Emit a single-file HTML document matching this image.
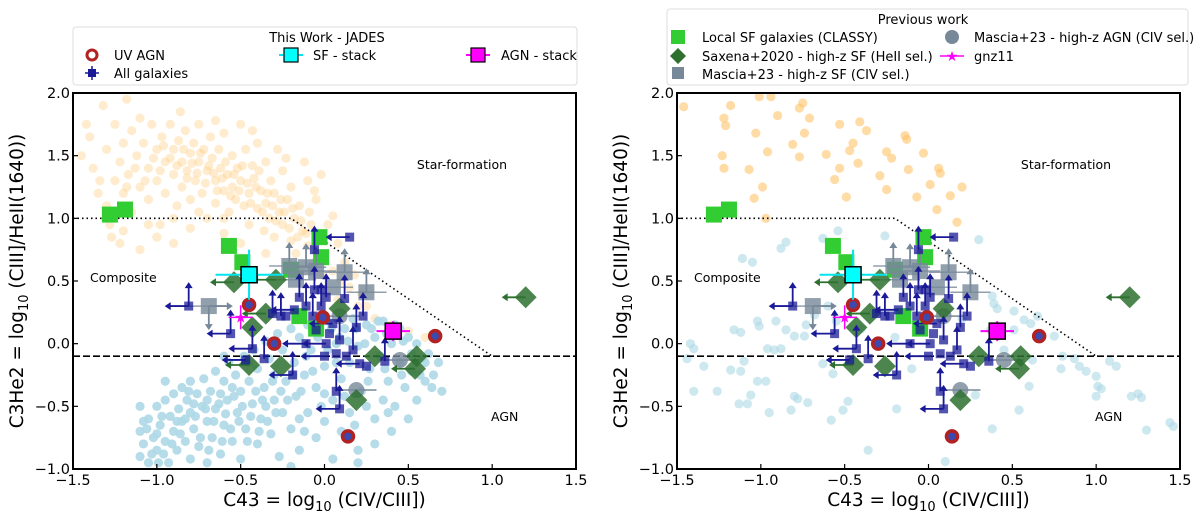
<!DOCTYPE html>
<html><head><meta charset="utf-8"><style>
html,body{margin:0;padding:0;background:#fff;}
svg{display:block;font-family:"DejaVu Sans","Liberation Sans",sans-serif;}
</style></head><body>
<svg id="chart" width="1200" height="523" viewBox="0 0 1200 523" xmlns="http://www.w3.org/2000/svg"></svg>
<script>
// ---- data ----
const leftOrange=[[-1.45,1.5],[-1.4,1.65],[-1.38,1.4],[-1.35,1.2],[-1.32,1.9],[-1.3,1.55],[-1.3,1.1],[-1.28,0.95],[-1.27,0.85],[-1.25,1.3],[-1.25,1.75],[-1.22,1.45],[-1.22,0.8],[-1.2,1.6],[-1.2,1.2],[-1.18,1.95],[-1.17,1.35],[-1.15,1.7],[-1.15,1.05],[-1.12,1.5],[-1.1,1.25],[-1.1,1.8],[-1.08,1.6],[-1.05,1.4],[-1.05,1.15],[-1.03,1.75],[-1.0,1.55],[-1.0,1.3],[-0.98,0.95],[-0.97,1.65],[-0.95,1.45],[-0.95,1.2],[-0.92,1.75],[-0.9,1.35],[-0.9,1.55],[-0.88,1.1],[-0.87,1.62],[-0.85,1.45],[-0.85,1.25],[-0.83,1.7],[-0.82,1.38],[-0.8,1.52],[-0.8,1.15],[-0.78,1.6],[-0.77,1.3],[-0.75,1.45],[-0.75,1.75],[-0.73,1.2],[-0.72,1.55],[-0.7,1.38],[-0.7,1.0],[-0.68,1.65],[-0.67,1.48],[-0.65,1.3],[-0.65,1.12],[-0.63,1.55],[-0.62,1.4],[-0.6,1.22],[-0.6,1.68],[-0.58,1.35],[-0.57,1.05],[-0.55,1.5],[-0.55,1.25],[-0.53,1.15],[-0.52,1.4],[-0.5,1.3],[-0.5,1.75],[-0.48,1.1],[-0.47,1.55],[-0.45,1.2],[-0.45,0.95],[-0.43,1.42],[-0.42,1.32],[-0.4,1.08],[-0.4,1.6],[-0.38,1.22],[-0.36,0.9],[-0.35,1.45],[-0.35,1.12],[-0.33,1.0],[-0.32,1.3],[-0.3,1.2],[-0.3,0.85],[-0.28,1.55],[-0.27,1.05],[-0.25,0.95],[-0.25,1.38],[-0.22,1.15],[-0.2,0.82],[-0.2,1.25],[-0.18,1.0],[-0.17,0.72],[-0.15,1.1],[-0.13,0.9],[-0.12,1.45],[-0.1,0.78],[-0.1,1.3],[-0.08,0.95],[-0.06,0.65],[-0.05,1.15],[-0.03,0.85],[-0.02,1.35],[0.0,0.7],[0.02,0.95],[0.05,0.58],[0.08,0.8],[0.1,0.5],[0.12,0.65],[0.15,0.45],[0.18,0.55],[0.22,0.4],[0.25,0.3],[-1.2,0.9],[-1.1,0.75],[-1.0,0.85],[-0.9,0.8],[-0.8,0.92],[-0.6,0.88],[-0.5,0.8],[-0.35,0.72],[-0.15,0.6],[0.3,0.2],[0.4,0.15],[0.5,0.1],[0.6,0.05],
[-0.92,1.48],[-0.88,1.42],[-0.84,1.55],[-0.82,1.32],[-0.79,1.44],[-0.76,1.36],[-0.74,1.52],[-0.71,1.28],[-0.69,1.42],[-0.66,1.36],[-0.64,1.22],[-0.61,1.32],[-0.59,1.45],[-0.56,1.18],[-0.54,1.35],[-0.51,1.22],[-0.49,1.42],[-0.46,1.28],[-0.44,1.12],[-0.41,1.25],[-0.39,1.38],[-0.37,1.05],[-0.34,1.2],[-0.31,1.1],[-0.29,0.98],[-0.26,1.15],[-0.24,1.05],[-0.21,0.92],[-0.19,1.08],[-0.16,0.85],[-0.14,0.98],[-0.11,0.88],[-0.09,1.05],[-1.02,1.48],[-0.98,1.38],[-0.96,1.58],[-1.07,1.3],[-1.13,1.4],[-1.18,1.25],[-1.26,1.05],[-1.34,1.3],[-1.42,1.75],[-0.86,1.85],[-0.65,1.78],[-0.43,1.7],[-0.23,1.48],[-0.06,1.22],[0.05,1.02],[-0.02,0.55],[0.08,0.35],[0.2,0.3],[-0.6,1.0],[-0.75,1.05],[-0.9,1.0],[-1.05,0.95]];
const leftBlue=[[-1.1,-0.9],[-1.1,-0.7],[-1.08,-0.8],[-1.05,-0.6],[-1.05,-0.95],[-1.02,-0.75],[-1.0,-0.5],[-1.0,-0.85],[-0.98,-0.65],[-0.95,-0.45],[-0.95,-0.78],[-0.93,-0.95],[-0.92,-0.58],[-0.9,-0.4],[-0.9,-0.7],[-0.88,-0.85],[-0.87,-0.52],[-0.85,-0.35],[-0.85,-0.62],[-0.83,-0.78],[-0.82,-0.45],[-0.8,-0.3],[-0.8,-0.55],[-0.8,-0.92],[-0.78,-0.68],[-0.76,-0.4],[-0.75,-0.82],[-0.73,-0.5],[-0.72,-0.28],[-0.7,-0.62],[-0.7,-0.95],[-0.68,-0.38],[-0.67,-0.75],[-0.65,-0.22],[-0.65,-0.52],[-0.62,-0.88],[-0.6,-0.3],[-0.6,-0.65],[-0.58,-0.45],[-0.57,-0.15],[-0.55,-0.78],[-0.53,-0.25],[-0.52,-0.55],[-0.5,-0.38],[-0.5,-0.92],[-0.48,-0.1],[-0.47,-0.68],[-0.45,-0.3],[-0.43,-0.48],[-0.42,-0.05],[-0.4,-0.8],[-0.4,-0.2],[-0.38,-0.6],[-0.36,-0.35],[-0.35,0.02],[-0.33,-0.12],[-0.32,-0.72],[-0.3,-0.45],[-0.3,-0.25],[-0.28,0.08],[-0.27,-0.9],[-0.25,-0.55],[-0.25,-0.05],[-0.23,-0.3],[-0.2,0.12],[-0.2,-0.68],[-0.18,-0.15],[-0.17,-0.42],[-0.15,0.05],[-0.15,-0.85],[-0.12,-0.25],[-0.1,0.15],[-0.1,-0.55],[-0.08,-0.05],[-0.05,-0.35],[-0.05,-0.75],[-0.03,0.1],[0.0,-0.18],[0.0,-0.62],[0.02,0.18],[0.05,-0.45],[0.05,-0.92],[0.07,0.0],[0.1,-0.28],[0.1,-0.7],[0.12,0.12],[0.15,-0.15],[0.15,-0.55],[0.17,0.2],[0.2,-0.02],[0.2,-0.85],[0.22,-0.38],[0.25,0.15],[0.27,-0.2],[0.3,-0.6],[0.3,0.05],[0.33,-0.1],[0.35,0.18],[0.38,-0.3],[0.4,0.0],[0.42,-0.5],[0.45,0.12],[0.45,-0.15],[0.48,-0.35],[0.5,0.05],[0.52,-0.22],[0.55,-0.45],[0.55,0.0],[0.58,-0.12],[0.6,-0.3],[0.62,-0.08],[0.65,-0.25],[0.7,-0.38],[0.68,-0.15],[0.4,-0.7],[0.2,-0.95],[-0.2,-0.98],[-0.95,-0.3],[-1.1,-0.5],[-0.45,-0.15],[0.3,-0.8],[0.5,-0.6],[-0.6,-0.1],[-1.06,-0.68],[-0.97,-0.58],[-0.88,-0.62],[-0.78,-0.48],[-0.7,-0.45],[-0.62,-0.4],[-0.55,-0.35],[-0.35,-0.5],[-0.15,-0.6],[0.0,-0.4],[0.25,-0.5],[0.35,-0.45],
[-1.0,-0.72],[-0.96,-0.88],[-0.91,-0.8],[-0.86,-0.72],[-0.83,-0.6],[-0.81,-0.38],[-0.77,-0.58],[-0.74,-0.75],[-0.71,-0.52],[-0.69,-0.85],[-0.66,-0.62],[-0.63,-0.48],[-0.61,-0.78],[-0.59,-0.56],[-0.56,-0.68],[-0.54,-0.42],[-0.51,-0.62],[-0.49,-0.5],[-0.46,-0.78],[-0.44,-0.58],[-0.41,-0.38],[-0.39,-0.7],[-0.37,-0.45],[-0.34,-0.62],[-0.31,-0.3],[-0.29,-0.55],[-0.26,-0.38],[-0.22,-0.45],[-0.19,-0.25],[-0.14,-0.38],[-0.11,-0.1],[-0.07,-0.22],[-0.04,0.05],[0.02,-0.05],[0.04,0.12],[0.09,0.05],[0.14,0.02],[0.19,0.12],[0.24,0.0],[0.28,0.12],[0.32,0.18],[0.37,0.08],[0.42,0.15],[0.47,0.02],[0.52,-0.08],[0.57,-0.25],[0.6,-0.15],[0.64,-0.35],[0.46,-0.25],[0.36,-0.2],[0.26,-0.3],[0.12,-0.42],[0.07,-0.15],[-0.02,-0.5],[-0.12,-0.7],[0.18,-0.65],[0.38,-0.55],[-1.08,-0.62],[-1.03,-0.88],[-0.99,-0.95]];
const rightOrange=[[-1.46,1.89],[-1.18,1.9],[-1.01,1.97],[-0.94,1.97],[-1.22,1.8],[-1.21,1.74],[-1.03,1.68],[-0.9,1.82],[-0.77,1.88],[-0.75,1.92],[-0.71,1.8],[-0.74,1.68],[-0.81,1.59],[-0.96,1.53],[-1.23,1.5],[-1.22,1.4],[-1.07,1.39],[-0.99,1.25],[-1.04,1.16],[-0.77,1.49],[-0.61,1.51],[-0.53,1.75],[-0.41,1.77],[-0.37,1.7],[-0.45,1.6],[-0.47,1.54],[-0.42,1.44],[-0.53,1.4],[-0.56,1.31],[-0.49,1.17],[-0.29,1.34],[-0.25,1.53],[-0.22,1.48],[-0.25,1.23],[-0.14,1.66],[-0.13,1.63],[-0.12,1.39],[-0.03,1.52],[0.01,1.27],[0.06,1.4],[0.07,1.36],[-0.07,1.17],[0.05,1.07],[0.13,1.18],[0.2,1.25],[0.17,0.97],[-0.97,1.0]];
const rightBlue=[[-1.42,0.0],[-1.4,-0.04],[-1.44,-0.12],[-1.34,-0.18],[-1.4,-0.38],[-1.26,-0.38],[-1.18,-0.21],[-1.12,-0.22],[-1.1,-0.14],[-1.02,-0.3],[-0.97,-0.3],[-0.96,-0.04],[-0.92,-0.05],[-0.88,-0.04],[-1.02,0.18],[-1.01,0.14],[-1.16,0.11],[-1.12,0.09],[-0.91,0.18],[-0.85,0.11],[-0.8,0.06],[-0.74,0.06],[-0.73,0.15],[-0.68,0.23],[-0.63,-0.16],[-0.57,-0.24],[-1.05,0.65],[-1.11,0.68],[-0.88,0.76],[-0.85,0.81],[-0.63,0.84],[-0.54,0.9],[-0.26,0.86],[0.3,0.83],[0.38,0.38],[0.41,0.28],[0.51,0.26],[0.57,0.19],[0.61,0.16],[0.65,0.22],[0.75,0.06],[0.8,-0.1],[0.79,-0.2],[0.87,-0.12],[0.9,-0.18],[0.94,-0.22],[1.0,-0.26],[1.01,-0.34],[1.03,-0.36],[1.0,-0.42],[1.08,-0.14],[1.12,-0.18],[1.21,-0.42],[1.25,-0.4],[1.27,-0.43],[1.3,-0.69],[1.44,-0.63],[1.46,-0.66],[0.6,-0.34],[0.54,-0.53],[0.38,-0.68],[0.28,-0.41],[0.1,-0.94],[-0.36,-0.85],[-0.19,-0.52],[-0.48,-0.46],[-0.51,-0.53],[-0.58,-0.61],[-0.72,-0.47],[-0.8,-0.42],[-0.78,-0.44],[-0.82,-0.53],[-0.95,-0.55],[-1.06,-0.41],[-1.13,-0.48],[-1.08,-0.48],[0.37,0.11],[0.51,0.11],[0.62,-0.13],[0.39,0.32],[-0.6,0.3],[-0.55,0.18],[-0.4,0.12],[-0.3,0.25],[-0.2,0.05],[-0.1,-0.2],[0.2,0.2],[0.45,-0.05]];
const classyX=[-1.28,-1.19,-0.57,-0.49,-0.03,-0.02,-0.2,-0.15,-0.05];
const classyY=[1.03,1.07,0.78,0.65,0.85,0.69,0.59,0.22,0.12];
const saxenaX=[1.2,-0.29,-0.54,-0.35,-0.43,-0.45,-0.26,0.09,0.3,0.55,0.54,0.19];
const saxenaY=[0.37,0.51,0.49,0.24,0.13,-0.17,-0.18,0.28,-0.1,-0.1,-0.2,-0.45];
const saxenaLim=['L','L','L','L','','L','','','','','L',''];
const masciaSfX=[-0.69,-0.21,-0.11,0.12,0.25,0.05,-0.17,-0.05];
const masciaSfY=[0.3,0.62,0.61,0.57,0.41,0.45,0.51,0.58];
const masciaSfLim=['RD','U','U','U','U','','','U'];
const masciaAgnX=[0.19,0.45,0.09];
const masciaAgnY=[-0.37,-0.13,0.22];
const uvAgnX=[-0.45,-0.01,-0.3,0.66,0.14];
const uvAgnY=[0.31,0.21,0.0,0.06,-0.74];
const galX=[0.15,-0.81,-0.56,-0.43,-0.36,-0.19,-0.47,0.09,0.07,0.19,0.23,0.36,0.12,-0.06,-0.02,-0.11,-0.18,-0.23,-0.26,0.05,0.01,-0.11,0.0,0.07,0.13,0.21,0.17,0.09,0.03,-0.05,-0.07,0.01,-0.15,-0.31,-0.06,-0.02,0.25];
const galY=[0.85,0.3,0.08,-0.04,-0.12,-0.25,-0.13,-0.52,-0.38,0.13,0.22,-0.14,0.36,0.43,0.3,0.3,0.27,0.22,0.22,0.16,0.0,0.0,-0.1,-0.08,-0.1,-0.16,-0.05,0.03,0.08,0.11,0.22,0.37,0.37,0.24,0.75,0.43,-0.18];
const galLim=['L','LU','LU','LU','U','LU','L','LU','U','U','U','U','U','U','U','U','L','','U','L','L','L','L','','','L','U','U','','','U','U','U','U','U','',''];
const sfStack=[-0.45,0.55], agnStack=[0.41,0.10], gnz11=[-0.5,0.21];
const xTicks=[-1.5,-1.0,-0.5,0.0,0.5,1.0,1.5];
const yTicks=[-1.0,-0.5,0.0,0.5,1.0,1.5,2.0];

const NS='http://www.w3.org/2000/svg';
const svg=document.getElementById('chart');
function mk(tag,attrs,parent){const e=document.createElementNS(NS,tag);for(const k in attrs)e.setAttribute(k,attrs[k]);(parent||svg).appendChild(e);return e;}
function txt(s,attrs,parent){const e=mk('text',attrs,parent);e.textContent=s;return e;}

const TOP=93,BOT=469,W=503;
function panel(ox,orange,blue,oOp,bOp,name){
  const g=mk('g',{});
  
  
  const sx=x=>ox+(x+1.5)*W/3, sy=y=>TOP+(2-y)*(BOT-TOP)/3;
  const cid='clip'+ox;
  const cp=mk('clipPath',{id:cid},g);mk('rect',{x:ox,y:TOP,width:W,height:BOT-TOP},cp);
  const pg=mk('g',{'clip-path':'url(#'+cid+')'},g);
  orange.forEach(p=>{const c=mk('circle',{cx:sx(p[0]),cy:sy(p[1]),r:4.6,fill:'#ffc36b','fill-opacity':oOp},pg);
    });
  blue.forEach(p=>{const c=mk('circle',{cx:sx(p[0]),cy:sy(p[1]),r:4.6,fill:'#add8e6','fill-opacity':bOp},pg);
    });
  const dl=mk('polyline',{points:[sx(-1.5),sy(1),sx(-0.2),sy(1),sx(1.0),sy(-0.1)].join(' '),fill:'none',stroke:'#000','stroke-width':1.6,'stroke-dasharray':'1.5,3'},pg);
  
  const dh=mk('line',{x1:sx(-1.5),x2:sx(1.5),y1:sy(-0.1),y2:sy(-0.1),stroke:'#000','stroke-width':1.6,'stroke-dasharray':'7,3'},pg);
  
  function arrow(x,y,dir,col){
    const X=sx(x),Y=sy(y);
    if(dir==='L'){mk('line',{x1:X,y1:Y,x2:X-20,y2:Y,stroke:col,'stroke-width':1.8},pg);mk('path',{d:`M${X-24} ${Y} l6 -4 v8z`,fill:col},pg);}
    if(dir==='R'){mk('line',{x1:X,y1:Y,x2:X+20,y2:Y,stroke:col,'stroke-width':1.8},pg);mk('path',{d:`M${X+24} ${Y} l-6 -4 v8z`,fill:col},pg);}
    if(dir==='U'){mk('line',{x1:X,y1:Y,x2:X,y2:Y-20,stroke:col,'stroke-width':1.8},pg);mk('path',{d:`M${X} ${Y-24} l-4 6 h8z`,fill:col},pg);}
    if(dir==='D'){mk('line',{x1:X,y1:Y,x2:X,y2:Y+20,stroke:col,'stroke-width':1.8},pg);mk('path',{d:`M${X} ${Y+24} l-4 -6 h8z`,fill:col},pg);}
  }
  classyX.forEach((x,i)=>{const r=mk('rect',{x:sx(x)-8,y:sy(classyY[i])-8,width:16,height:16,fill:'#32cd32'},pg);
    });
  masciaSfX.forEach((x,i)=>{const col='#778899';
    mk('line',{x1:sx(x-0.12),x2:sx(x+0.12),y1:sy(masciaSfY[i]),y2:sy(masciaSfY[i]),stroke:col,'stroke-width':1.5,'stroke-opacity':0.8},pg);
    for(const d of masciaSfLim[i])arrow(x,masciaSfY[i],d,col);
    const r=mk('rect',{x:sx(x)-8,y:sy(masciaSfY[i])-8,width:16,height:16,fill:col,'fill-opacity':0.8},pg);
    });
  masciaAgnX.forEach((x,i)=>{const col='#778899';
    mk('line',{x1:sx(x-0.12),x2:sx(x+0.12),y1:sy(masciaAgnY[i]),y2:sy(masciaAgnY[i]),stroke:col,'stroke-width':1.5},pg);
    const c=mk('circle',{cx:sx(x),cy:sy(masciaAgnY[i]),r:8,fill:col,'fill-opacity':0.8},pg);
    });
  saxenaX.forEach((x,i)=>{const col='#2e7030';
    if(saxenaLim[i]==='L')arrow(x,saxenaY[i],'L',col);
    const X=sx(x),Y=sy(saxenaY[i]);
    const p=mk('path',{d:`M${X} ${Y-11} L${X+11} ${Y} L${X} ${Y+11} L${X-11} ${Y}Z`,fill:col,'fill-opacity':0.85},pg);
    });
  galX.forEach((x,i)=>{const col='#1a1a96';
    for(const d of galLim[i])arrow(x,galY[i],d,col);
    const r=mk('rect',{x:sx(x)-4.5,y:sy(galY[i])-4.5,width:9,height:9,fill:col,'fill-opacity':0.75},pg);
    });
  uvAgnX.forEach((x,i)=>{const c=mk('circle',{cx:sx(x),cy:sy(uvAgnY[i]),r:5.5,fill:'#3a4ab0',stroke:'#b22222','stroke-width':3.5},pg);
    });
  let X=sx(sfStack[0]),Y=sy(sfStack[1]);
  mk('line',{x1:sx(sfStack[0]-0.2),x2:sx(sfStack[0]+0.2),y1:Y,y2:Y,stroke:'#00e5ee','stroke-width':2},pg);
  mk('line',{x1:X,x2:X,y1:sy(sfStack[1]+0.2),y2:sy(sfStack[1]-0.2),stroke:'#00e5ee','stroke-width':2},pg);
  const sr=mk('rect',{x:X-8,y:Y-8,width:16,height:16,fill:'#00ffff',stroke:'#000','stroke-width':1.5},pg);
  
  X=sx(agnStack[0]);Y=sy(agnStack[1]);
  mk('line',{x1:sx(agnStack[0]-0.1),x2:sx(agnStack[0]+0.1),y1:Y,y2:Y,stroke:'#ff00ff','stroke-width':2},pg);
  mk('line',{x1:X,x2:X,y1:sy(agnStack[1]+0.08),y2:sy(agnStack[1]-0.08),stroke:'#ff00ff','stroke-width':2},pg);
  const ar=mk('rect',{x:X-8,y:Y-8,width:16,height:16,fill:'#ff00ff',stroke:'#000','stroke-width':1.5},pg);
  
  X=sx(gnz11[0]);Y=sy(gnz11[1]);
  mk('line',{x1:X-12,x2:X+12,y1:Y,y2:Y,stroke:'#ff00ff','stroke-width':1.5},pg);
  mk('line',{x1:X,x2:X,y1:Y-12,y2:Y+12,stroke:'#ff00ff','stroke-width':1.5},pg);
  const st=txt('★',{x:X,y:Y+5,'text-anchor':'middle','font-size':15,fill:'#ff00ff'},pg);
  
  const l1=txt('Star-formation',{x:sx(0.82),y:TOP+76,'font-size':12.5,'text-anchor':'middle'},g);
  
  const l2=txt('Composite',{x:ox+17,y:TOP+189,'font-size':12.5},g);
  
  const l3=txt('AGN',{x:ox+418,y:TOP+328,'font-size':12.5},g);
  
  const fr=mk('rect',{x:ox,y:TOP,width:W,height:BOT-TOP,fill:'none',stroke:'#000','stroke-width':2},g);
  
  xTicks.forEach(t=>{mk('line',{x1:sx(t),x2:sx(t),y1:BOT,y2:BOT-5,stroke:'#000','stroke-width':1.2},g);
    const e=txt(t.toFixed(1).replace('-','−'),{x:sx(t),y:BOT+16,'font-size':14.5,'text-anchor':'middle'},g);
    });
  yTicks.forEach(t=>{mk('line',{x1:ox,x2:ox+5,y1:sy(t),y2:sy(t),stroke:'#000','stroke-width':1.2},g);
    const e=txt(t.toFixed(1).replace('-','−'),{x:ox-3,y:sy(t)+5,'font-size':14.5,'text-anchor':'end'},g);
    });
  const xl=txt('',{x:ox+W/2,y:506,'font-size':18.5,'text-anchor':'middle'},g);
  xl.innerHTML='C43 = log<tspan font-size="13" dy="5">10</tspan><tspan dy="-5"> (CIV/CIII])</tspan>';
  
  const yl=txt('',{x:0,y:0,'font-size':18.5,'text-anchor':'middle',transform:`translate(${ox-50},${(TOP+BOT)/2}) rotate(-90)`},g);
  yl.innerHTML='C3He2 = log<tspan font-size="13" dy="5">10</tspan><tspan dy="-5"> (CIII]/HeII(1640))</tspan>';
  
}
panel(73,leftOrange,leftBlue,0.32,0.9,'left-panel');
panel(677,rightOrange,rightBlue,0.6,0.6,'right-panel');

const lg=mk('g',{});


mk('rect',{x:73,y:27,width:504,height:58,rx:3,fill:'#fff',stroke:'#ddd'},lg);
txt('This Work - JADES',{x:327,y:42,'font-size':13,'text-anchor':'middle'},lg);
mk('circle',{cx:92,cy:55,r:5,fill:'#fff',stroke:'#b22222','stroke-width':3},lg);
txt('UV AGN',{x:114,y:60,'font-size':13},lg);
mk('rect',{x:88,y:69,width:8,height:8,fill:'#1a1a96'},lg);
mk('line',{x1:85,x2:99,y1:73,y2:73,stroke:'#1a1a96','stroke-width':1.5},lg);
mk('line',{x1:92,x2:92,y1:66,y2:80,stroke:'#1a1a96','stroke-width':1.5},lg);
txt('All galaxies',{x:114,y:78,'font-size':13},lg);
mk('line',{x1:279,x2:303,y1:55,y2:55,stroke:'#00e5ee','stroke-width':2},lg);
mk('rect',{x:284,y:48,width:14,height:14,fill:'#00ffff',stroke:'#000','stroke-width':1.2},lg);
txt('SF - stack',{x:313,y:60,'font-size':13},lg);
mk('line',{x1:466,x2:490,y1:55,y2:55,stroke:'#ff00ff','stroke-width':2},lg);
mk('rect',{x:471,y:48,width:14,height:14,fill:'#ff00ff',stroke:'#000','stroke-width':1.2},lg);
txt('AGN - stack',{x:501,y:60,'font-size':13},lg);

const rg=mk('g',{});


mk('rect',{x:667,y:9,width:521,height:76,rx:3,fill:'#fff',stroke:'#ddd'},rg);
txt('Previous work',{x:923,y:24,'font-size':13,'text-anchor':'middle'},rg);
mk('rect',{x:671,y:30,width:14,height:14,fill:'#32cd32'},rg);
txt('Local SF galaxies (CLASSY)',{x:702,y:42,'font-size':13},rg);
mk('path',{d:'M678 48 l8 8 l-8 8 l-8 -8z',fill:'#2e7030'},rg);
txt('Saxena+2020 - high-z SF (HeII sel.)',{x:702,y:61,'font-size':13},rg);
mk('rect',{x:672,y:67,width:12,height:12,fill:'#778899'},rg);
txt('Mascia+23 - high-z SF (CIV sel.)',{x:702,y:79,'font-size':13},rg);
mk('circle',{cx:952,cy:37,r:7,fill:'#778899'},rg);
txt('Mascia+23 - high-z AGN (CIV sel.)',{x:974,y:42,'font-size':13},rg);
mk('line',{x1:940,x2:964,y1:56,y2:56,stroke:'#ff00ff','stroke-width':1.5},rg);
txt('★',{x:952,y:61,'font-size':14,'text-anchor':'middle',fill:'#ff00ff'},rg);
txt('gnz11',{x:974,y:61,'font-size':13},rg);
</script>
</body></html>
